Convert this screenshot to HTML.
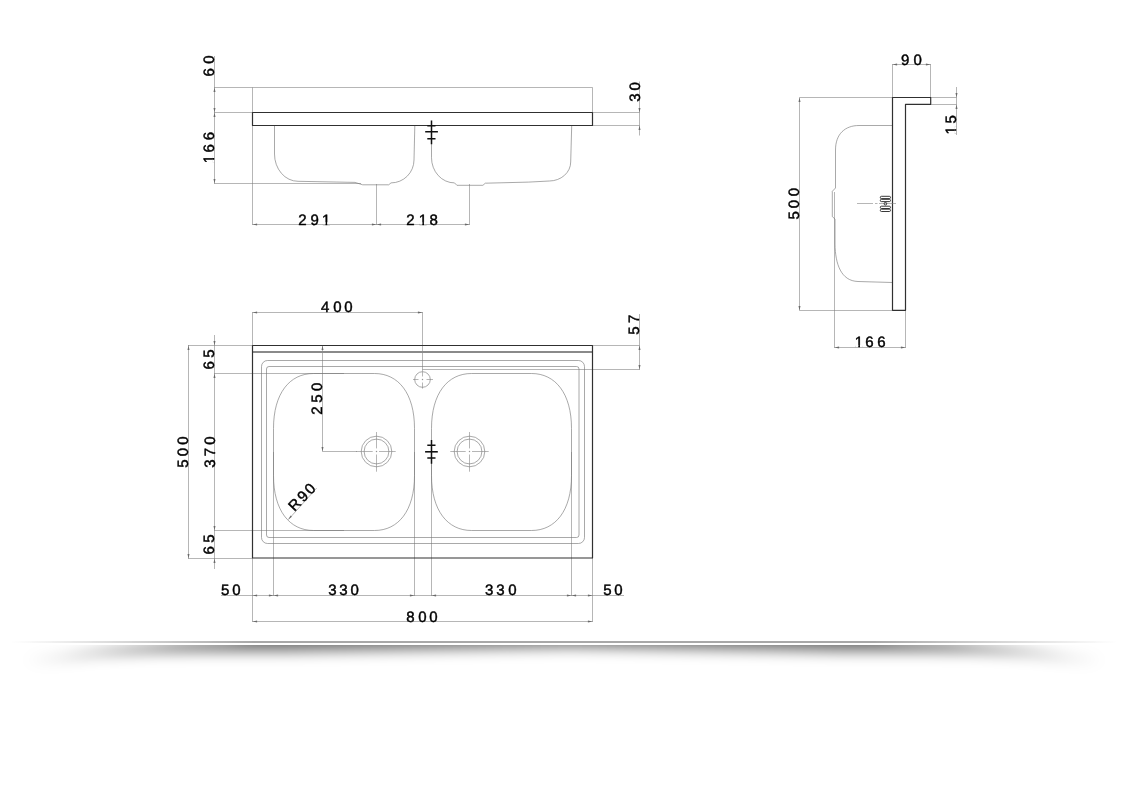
<!DOCTYPE html>
<html>
<head>
<meta charset="utf-8">
<title>Sink drawing</title>
<style>
html,body{margin:0;padding:0;background:#fff;}
body{width:1140px;height:800px;overflow:hidden;font-family:"Liberation Sans",sans-serif;}
svg{display:block;will-change:transform;}
.t{stroke:#7c7c7c;stroke-width:0.56;fill:none;}
.b{stroke:#747474;stroke-width:0.62;fill:none;}
.k{stroke:#303030;stroke-width:1.2;fill:none;stroke-linejoin:round;}
.s{stroke:#111;stroke-width:1.5;fill:none;}
.a{fill:#6a6a6a;stroke:none;}
text{font-family:"Liberation Sans",sans-serif;font-size:15.0px;letter-spacing:0px;fill:#000;stroke:#000;stroke-width:0.45px;text-anchor:start;text-rendering:geometricPrecision;}
</style>
</head>
<body>
<svg width="1140" height="800" viewBox="0 0 1140 800">
<defs>
  <linearGradient id="lg" x1="0" x2="1" y1="0" y2="0">
    <stop offset="0" stop-color="#a8a8a8" stop-opacity="0"/>
    <stop offset="0.22" stop-color="#a8a8a8" stop-opacity="1"/>
    <stop offset="0.78" stop-color="#a8a8a8" stop-opacity="1"/>
    <stop offset="1" stop-color="#a8a8a8" stop-opacity="0"/>
  </linearGradient>
  <filter id="bl" filterUnits="userSpaceOnUse" x="0" y="590" width="1140" height="130"><feGaussianBlur stdDeviation="7"/></filter>
  <clipPath id="c1"><path clip-rule="evenodd" d="M-2000,-40H2000V40H-2000Z M322.49,-2.300H325.57V1H322.49Z M327.20,-2.300H330.16V1H327.20Z"/></clipPath>
  <clipPath id="c2"><path clip-rule="evenodd" d="M-2000,-40H2000V40H-2000Z M419.29,-2.300H422.37V1H419.29Z M424.00,-2.300H426.96V1H424.00Z"/></clipPath>
  <clipPath id="c3"><path clip-rule="evenodd" d="M-2000,-40H2000V40H-2000Z M-162.71,-2.300H-159.63V1H-162.71Z M-158.00,-2.300H-155.04V1H-158.00Z"/></clipPath>
  <clipPath id="c4"><path clip-rule="evenodd" d="M-2000,-40H2000V40H-2000Z M-133.86,-2.300H-130.78V1H-133.86Z M-129.15,-2.300H-126.19V1H-129.15Z"/></clipPath>
  <clipPath id="c5"><path clip-rule="evenodd" d="M-2000,-40H2000V40H-2000Z M855.24,-2.300H858.32V1H855.24Z M859.95,-2.300H862.91V1H859.95Z"/></clipPath>
  <clipPath id="cp"><rect x="0" y="645" width="1140" height="80"/></clipPath>
</defs>

<!-- ===== bottom shadow ===== -->
<g id="shadow">
  <rect x="12" y="641" width="1104" height="2" fill="url(#lg)"/>
  <g clip-path="url(#cp)">
    <path filter="url(#bl)" fill="#000" fill-opacity="0.55" d="M25,661 L60,658.3 L100,654 L150,652 L200,651.6 L285,651.4 L570,647.3 L843,651.4 L928,651.6 L978,652 L1028,654 L1068,658.3 L1103,661 L1068,657 L1028,650.6 L978,645 L948,642 L898,638 L843,625 L285,625 L230,638 L180,642 L150,645 L100,650.6 L60,657 Z"/>
  </g>
</g>

<!-- ===== front view ===== -->
<g id="front">
  <path class="t" d="M214,87.500H592.500 M252.500,87.500V225 M592.500,87.500V112 M214.500,56V183.500 M214,112.500H252 M214,183.500H361 M252.500,224.500H469.500 M376.500,184V225 M469.500,184V225 M639.500,81.500V135.500 M593,112.500H639.500 M593,125.500H639.500"/>
  <path class="b" d="M274.500,126V154 A23.500,27.300 0 0 0 298,181.300 L355,182.400 L362.700,184.800 H388.700 L391,182.900 A23,23 0 0 0 414,160 L414.800,126"/>
  <path class="b" d="M431.500,126V157.700 A23,25.200 0 0 0 454.500,182.900 L456.900,185.300 H482.900 L485.300,183.200 L528.700,182.100 L549.300,181 A21.500,19 0 0 0 570.700,162 L571.700,126"/>
  <rect class="k" x="252.500" y="112.500" width="340" height="13"/>
  <path class="s" d="M431.500,120.500V144.200 M427.300,125.700H435.500 M425.200,131.700H437.900 M427.300,138.700H435.500"/>
</g>

<!-- ===== plan view ===== -->
<g id="plan">
  <path class="t" d="M252.500,312V345 M422.500,312V371.700 M252.500,312.500H422.500 M188,345.500H252 M593,345.500H639.500 M422.500,369.500H639.500 M639.500,314V370 M188.500,345V558.500 M214.500,335V569 M214,373.500H344 M214,530.500H344 M188,558.500H252 M252.500,558V622 M592.500,558V622 M252.500,621.500H592.500 M273.500,452V596 M414.500,452V596 M431.500,452V596 M571.500,452V596 M221,595.500H624 M322.500,346V451.500 M322.500,451.500H357 M288.300,519.600L316.600,488.200"/>
  <path d="M252.500,352H592.500" stroke="#8a8a8a" stroke-width="2" fill="none"/>
  <rect class="b" x="261.500" y="360.500" width="323" height="183" rx="6" ry="6"/>
  <rect class="b" x="266.500" y="366.500" width="312.500" height="171" rx="2.500" ry="2.500"/>
  <path class="b" d="M313.5,373.5H374.5C398.5,373.5 414.5,393.5 414.5,428.5V475.5C414.5,510.5 398.5,530.5 374.5,530.5H313.5C289.5,530.5 273.5,510.5 273.5,475.5V428.5C273.5,393.5 289.5,373.5 313.5,373.5Z"/>
  <path class="b" d="M471.5,373.5H531.5C555.5,373.5 571.5,393.5 571.5,428.5V475.5C571.5,510.5 555.5,530.5 531.5,530.5H471.5C447.5,530.5 431.5,510.5 431.5,475.5V428.5C431.5,393.5 447.5,373.5 471.5,373.5Z"/>
  <circle class="b" cx="376.500" cy="451.500" r="15.300"/>
  <circle class="b" cx="376.500" cy="451.500" r="12.400"/>
  <circle class="b" cx="469.500" cy="451.500" r="15.300"/>
  <circle class="b" cx="469.500" cy="451.500" r="12.400"/>
  <path class="t" d="M356,451.500H372.700 M375.800,451.500H377.200 M379,451.500H395.700 M376.500,432V448.400 M376.500,450.800V452.200 M376.500,454.500V471.700"/>
  <path class="t" d="M450.300,451.500H465.700 M468.800,451.500H470.200 M472,451.500H488.700 M469.500,432V448.400 M469.500,450.800V452.200 M469.500,454.500V471.700"/>
  <circle class="b" cx="422.500" cy="379.500" r="7.800"/>
  <path class="t" d="M413,379.500H418.500 M421.800,379.500H423.200 M426.500,379.500H433 M422.500,372V376.500 M422.500,378.800V380.200 M422.500,382.500V388.600"/>
  <rect class="k" x="252.500" y="345.500" width="340" height="212.500"/>
  <path class="s" d="M431.500,440V463.700 M427.300,445.300H435.500 M427.300,458.100H435.500"/><path class="s" style="stroke-width:1.6" d="M425.100,451.800H437.800"/>
</g>

<!-- ===== side view ===== -->
<g id="side">
  <path class="t" d="M892.500,64V98 M930.500,64V98 M892.500,64.500H930.500 M799.500,97.500H892 M799.500,97.500V310.500 M799.500,310.500H892 M931,97.500H956.500 M931,104.500H956.500 M956.500,87V135 M834.500,192V348 M905.500,310V348 M834.500,347.500H905.500"/>
  <path class="b" d="M892.500,125.500H859 C845,125.500 835.500,134 835.500,150 V188 L832.300,191.300 V216.600 L835,219 V244 C835.300,264 841,281 858,281.500 L892.500,282.500"/>
  <path class="k" d="M892.500,97.500H930.700 V104.300 H905.500 V310.300 H892.500 Z"/>
  <path class="t" d="M857,203.500H873 M875,203.500H877.500 M879,203.500H896"/>
  <g stroke="#222" stroke-width="0.9" fill="none">
    <rect x="880.300" y="196.300" width="10.200" height="2.300" rx="1.150"/>
    <rect x="880.300" y="199.300" width="10.200" height="2.300" rx="1.150"/>
    <circle cx="885.400" cy="203.700" r="1.300"/>
    <rect x="880.300" y="206.200" width="10.200" height="2.300" rx="1.150"/>
    <rect x="880.300" y="209.200" width="10.200" height="2.300" rx="1.150"/>
  </g>
</g>

<!-- ===== arrowheads ===== -->
<path class="a" d="M214.5,87.5L213.5,92.1H215.5Z M214.5,112.5L213.5,107.9H215.5Z M214.5,112.5L213.5,117.1H215.5Z M214.5,183.5L213.5,178.9H215.5Z M252.5,224.5L257.1,223.5V225.5Z M376.5,224.5L371.9,223.5V225.5Z M376.5,224.5L381.1,223.5V225.5Z M469.5,224.5L464.9,223.5V225.5Z M639.5,112.5L638.5,107.9H640.5Z M639.5,125.5L638.5,130.1H640.5Z M252.5,312.5L257.1,311.5V313.5Z M422.5,312.5L417.9,311.5V313.5Z M639.5,345.5L638.5,350.1H640.5Z M639.5,369.5L638.5,364.9H640.5Z M188.5,345.5L187.5,350.1H189.5Z M188.5,558.5L187.5,553.9H189.5Z M214.5,345.5L213.5,340.9H215.5Z M214.5,373.5L213.5,378.1H215.5Z M214.5,530.5L213.5,525.9H215.5Z M214.5,558.5L213.5,563.1H215.5Z M322.5,345.5L321.5,350.1H323.5Z M322.5,451.5L321.5,446.9H323.5Z M252.5,595.5L257.1,594.5V596.5Z M273.5,595.5L268.9,594.5V596.5Z M273.5,595.5L278.1,594.5V596.5Z M414.5,595.5L409.9,594.5V596.5Z M431.5,595.5L436.1,594.5V596.5Z M571.5,595.5L566.9,594.5V596.5Z M571.5,595.5L576.1,594.5V596.5Z M592.5,595.5L587.9,594.5V596.5Z M252.5,621.5L257.1,620.5V622.5Z M592.5,621.5L587.9,620.5V622.5Z M892.5,64.5L897.1,63.5V65.5Z M930.5,64.5L925.9,63.5V65.5Z M799.5,97.5L798.5,102.1H800.5Z M799.5,310.5L798.5,305.9H800.5Z M956.5,97.5L955.5,92.9H957.5Z M956.5,104.5L955.5,109.1H957.5Z M834.5,347.5L839.1,346.5V348.5Z M905.5,347.5L900.9,346.5V348.5Z"/>
<path class="a" d="M288.300,519.600 L291.900,516.700 L290.600,515.600Z"/>

<!-- ===== text ===== -->
<g id="labels">
  <text transform="translate(0,224.6)" clip-path="url(#c1)" x="298.20 310.45 321.95" y="0">291</text>
  <text transform="translate(0,224.6)" clip-path="url(#c2)" x="406.20 418.75 429.50" y="0">218</text>
  <text transform="translate(214.4,0) rotate(-90)" x="-76.61 -63.69" y="0">60</text>
  <text transform="translate(214.4,0) rotate(-90)" clip-path="url(#c3)" x="-163.25 -152.61 -140.21" y="0">166</text>
  <text transform="translate(639.6,0) rotate(-90)" x="-101.72 -90.39" y="0">30</text>
  <text transform="translate(0,311.6)" x="321.11 333.16 344.36" y="0">400</text>
  <text transform="translate(639.4,0) rotate(-90)" x="-334.70 -323.02" y="0">57</text>
  <text transform="translate(188.4,0) rotate(-90)" x="-467.75 -456.34 -444.64" y="0">500</text>
  <text transform="translate(214.4,0) rotate(-90)" x="-369.61 -357.65" y="0">65</text>
  <text transform="translate(214.5,0) rotate(-90)" x="-467.72 -456.22 -444.64" y="0">370</text>
  <text transform="translate(214.4,0) rotate(-90)" x="-554.61 -542.65" y="0">65</text>
  <text transform="translate(322.4,0) rotate(-90)" x="-414.70 -402.65 -391.04" y="0">250</text>
  <text transform="translate(294.6,512.0) rotate(-46)" style="letter-spacing:2.1px">R90</text>
  <text transform="translate(0,595.4)" x="221.10 232.31" y="0">50</text>
  <text transform="translate(0,595.4)" x="328.13 339.28 350.46" y="0">330</text>
  <text transform="translate(0,595.4)" x="485.03 496.23 508.26" y="0">330</text>
  <text transform="translate(0,595.4)" x="603.20 614.36" y="0">50</text>
  <text transform="translate(0,622.0)" x="406.25 418.16 429.36" y="0">800</text>
  <text transform="translate(0,64.5)" x="901.05 913.46" y="0">90</text>
  <text transform="translate(956.4,0) rotate(-90)" clip-path="url(#c4)" x="-134.40 -123.55" y="0">15</text>
  <text transform="translate(799.4,0) rotate(-90)" x="-219.50 -208.24 -196.34" y="0">500</text>
  <text transform="translate(0,347.4)" clip-path="url(#c5)" x="854.70 865.14 877.19" y="0">166</text>
</g>
</svg>
</body>
</html>
